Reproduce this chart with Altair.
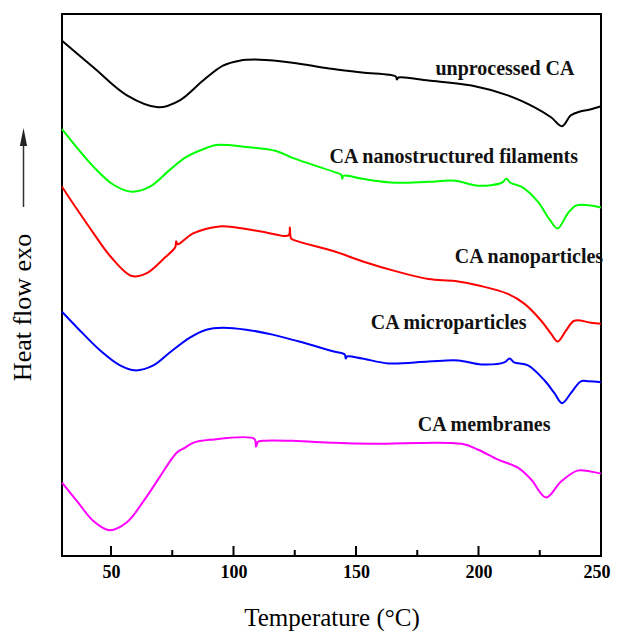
import altair as alt
import pandas as pd

# ---- data (temperature in °C, heat flow in arbitrary units) ----
names = ["unprocessed CA", "CA nanostructured filaments", "CA nanoparticles",
         "CA microparticles", "CA membranes"]
colors = ["#000000", "#00ff00", "#ff0000", "#0000ff", "#ff00ff"]

T_black = [30, 42.9, 56.5, 69.3, 78.1, 87.6, 95.7, 102.5, 110.6, 124.1, 139.0, 152.5,
           166.2, 166.7, 167.3, 179.6, 197.2, 212.0, 222.9, 229.6, 234.1, 237.7, 241.8, 245.9, 250]
v_black = [519, 492, 464, 452, 459, 479, 494, 499, 500, 497, 491, 487,
           483, 480, 482, 479, 474, 464, 452, 442, 433, 444, 448, 450, 453]

T_green = [30, 42.9, 51.0, 58.5, 65.9, 74.0, 80.8, 88.9, 93.0, 105.2, 117.4, 124.1, 141.0,
           144.0, 144.4, 144.9, 152.5, 166.1, 179.6, 190.4, 199.9, 209.5, 211.4, 213.0,
           217.5, 224.2, 229.0, 232.3, 236.4, 239.8, 245.9, 250]
v_green = [430, 392, 374, 367, 372, 389, 402, 411, 414, 412, 408, 401, 387,
           384, 380, 383, 380, 376, 377, 378, 373, 376, 380, 376,
           372, 357, 339, 330, 345, 353, 353, 351]

T_red = [30, 36.2, 42.9, 49.7, 58.5, 64.6, 71.3, 76.2, 76.6, 77.2, 83.5, 94.3, 101.1, 113.3,
         122.5, 123.0, 123.5, 125.0, 141.0, 152.5, 166.1, 179.6, 190.4, 201.0, 212.0, 218.8,
         225.6, 229.6, 232.3, 235.7, 239.1, 245.9, 250]
v_red = [372, 349, 325, 302, 282, 285, 299, 311, 317, 314, 325, 332, 331, 326,
         323, 331, 320, 318, 307, 297, 287, 279, 277, 272, 264, 254,
         237, 224, 216, 227, 237, 235, 234]

T_blue = [30, 36.2, 45.6, 53.7, 59.8, 67.3, 74.0, 82.2, 88.9, 95.7, 105.2, 116.0, 126.8, 141.0,
          145.4, 145.8, 146.3, 152.5, 163.3, 179.6, 191.8, 201.2, 210.5, 212.7, 214.5, 220.2,
          226.9, 231.0, 234.1, 237.7, 241.8, 245.0, 250]
v_blue = [246, 230, 207, 192, 187, 192, 205, 220, 228, 230, 228, 223, 216, 206,
          203, 199, 201, 199, 194, 196, 197, 193, 195, 199, 195, 192,
          177, 164, 154, 164, 176, 176, 175]

T_mag = [30, 36.2, 42.9, 49.4, 56.5, 63.2, 70.0, 76.8, 80.1, 83.5, 90.3, 108.5, 109.2, 110.0,
         111.9, 124.1, 141.0, 156.6, 193.1, 199.9, 208.0, 216.1, 221.5, 227.6, 233.7, 240.4,
         245.9, 250]
v_mag = [74, 55, 35, 26, 34, 55, 80, 104, 109, 114, 117, 118, 110, 115,
         116, 116, 114, 113, 113, 107, 97, 89, 77, 59, 75, 86,
         85, 83]

label_T = [210.8, 189.9, 220.6, 187.8, 202.3]
label_v = [491, 402, 301, 235, 132]

major_ticks = [50, 100, 150, 200, 250]
minor_ticks = [75, 125, 175, 225]

# ---- build tables ----
rows = []
for name, Ts, vs in zip(names, [T_black, T_green, T_red, T_blue, T_mag],
                        [v_black, v_green, v_red, v_blue, v_mag]):
    for t, v in zip(Ts, vs):
        rows.append({"series": name, "T": t, "v": v})
df = pd.DataFrame(rows)
df_lab = pd.DataFrame({"series": names, "T": label_T, "v": label_v})

W, H = 539, 542
FONT = "Liberation Serif"
xscale = alt.Scale(domain=[30, 250], nice=False, zero=False)
yscale = alt.Scale(domain=[0, 546], nice=False, zero=False)

lines = alt.Chart(df).mark_line(strokeWidth=2, interpolate="catmull-rom").encode(
    x=alt.X("T:Q", scale=xscale,
            axis=alt.Axis(values=major_ticks, ticks=False, domain=False, grid=False,
                          labelFont=FONT, labelFontSize=18, labelFontWeight="bold",
                          labelColor="#000", labelPadding=7, labelFlush=True,
                          labelFlushOffset=9,
                          title="Temperature (°C)", titleFont=FONT, titleFontSize=25,
                          titleFontWeight="normal", titleColor="#000",
                          titleBaseline="alphabetic", titleY=69)),
    y=alt.Y("v:Q", scale=yscale,
            axis=alt.Axis(labels=False, ticks=False, domain=False, grid=False,
                          title="Heat flow exo", titleFont=FONT, titleFontSize=26,
                          titleFontWeight="normal", titleColor="#000",
                          titleAngle=270, titleAlign="center", titleBaseline="middle",
                          titleX=-40, titleY=293)),
    color=alt.Color("series:N", scale=alt.Scale(domain=names, range=colors), legend=None),
)

texts = alt.Chart(df_lab).mark_text(font=FONT, fontSize=20, fontWeight="bold",
                                    color="#111", align="center", baseline="middle").encode(
    x=alt.X("T:Q", scale=xscale), y=alt.Y("v:Q", scale=yscale), text="series:N")

tmaj = alt.Chart(pd.DataFrame({"T": major_ticks})).mark_rule(
    color="#000", strokeWidth=2).encode(
    x=alt.X("T:Q", scale=xscale), y=alt.value(H), y2=alt.value(H - 10))
tmin = alt.Chart(pd.DataFrame({"T": minor_ticks})).mark_rule(
    color="#000", strokeWidth=2).encode(
    x=alt.X("T:Q", scale=xscale), y=alt.value(H), y2=alt.value(H - 6))

one = pd.DataFrame({"a": [0]})
arrow_line = alt.Chart(one).mark_rule(color="#333", strokeWidth=1.5).encode(
    x=alt.value(-38.5), y=alt.value(130), y2=alt.value(193))
arrow_head = alt.Chart(one).mark_point(shape="M0,-1L0.4,1L-0.4,1Z", filled=True,
                                       size=324, color="#222", opacity=1).encode(
    x=alt.value(-38.5), y=alt.value(123))

chart = alt.layer(lines, texts, tmaj, tmin, arrow_line, arrow_head).properties(
    width=W, height=H,
    background="white",
    autosize=alt.AutoSizeParams(type="none"),
    padding={"left": 54, "top": 6, "right": 10, "bottom": 75},
).configure_view(stroke="#000", strokeWidth=2)

chart.save("out.html", embed_options={"renderer": "svg", "actions": False})
